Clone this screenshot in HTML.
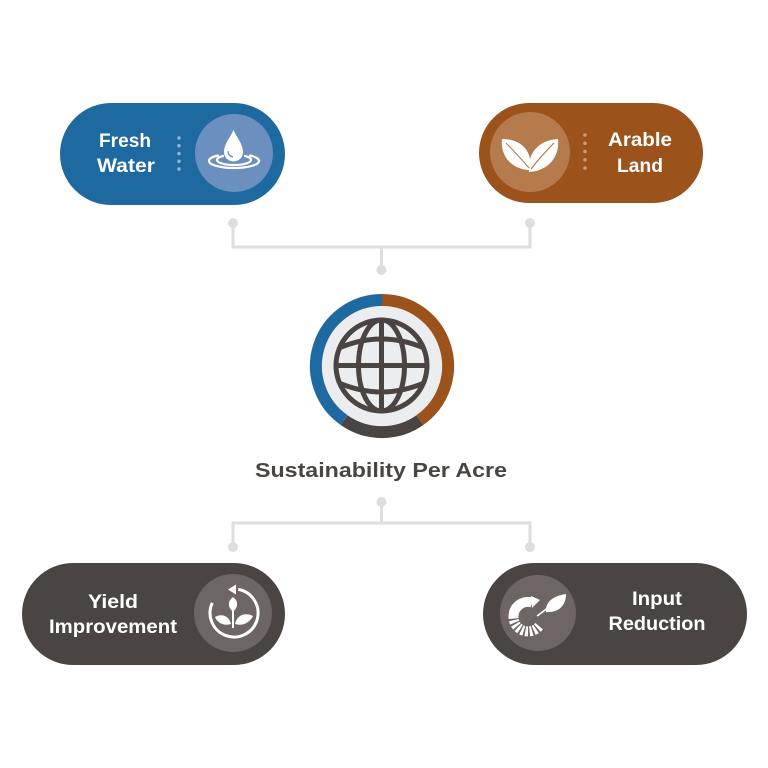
<!DOCTYPE html>
<html>
<head>
<meta charset="utf-8">
<style>
  html,body{margin:0;padding:0;background:#ffffff;}
  svg{display:block;}
  .lbl{font-family:"Liberation Sans",Arial,sans-serif;font-weight:bold;fill:#ffffff;font-size:19.5px;}
  .title{font-family:"Liberation Sans",Arial,sans-serif;font-weight:bold;fill:#4a4443;font-size:20.5px;}
</style>
</head>
<body>
<svg width="768" height="768" viewBox="0 0 768 768" xmlns="http://www.w3.org/2000/svg">
  <rect x="0" y="0" width="768" height="768" fill="#ffffff"/>

  <!-- connectors -->
  <g stroke="#dedede" stroke-width="3" fill="none">
    <path d="M233,223 V247 H530 V223"/>
    <path d="M381.5,247 V270"/>
    <path d="M381.5,502 V523"/>
    <path d="M233,547 V523 H530 V547"/>
  </g>
  <g fill="#dedede">
    <circle cx="233" cy="223" r="5"/>
    <circle cx="530" cy="223" r="5"/>
    <circle cx="381.5" cy="270" r="5"/>
    <circle cx="381.5" cy="502" r="5"/>
    <circle cx="233" cy="547" r="5"/>
    <circle cx="530" cy="547" r="5"/>
  </g>

  <!-- Fresh Water pill -->
  <rect x="60" y="103" width="225" height="102" rx="51" fill="#1f69a1"/>
  <circle cx="234" cy="153" r="39" fill="#6b8fbf"/>
  <g fill="#8fb2d4">
    <circle cx="179" cy="138" r="1.8"/>
    <circle cx="179" cy="145.8" r="1.8"/>
    <circle cx="179" cy="153.5" r="1.8"/>
    <circle cx="179" cy="161.3" r="1.8"/>
    <circle cx="179" cy="169" r="1.8"/>
  </g>
  <text class="lbl" x="125" y="147" text-anchor="middle" textLength="52" lengthAdjust="spacingAndGlyphs">Fresh</text>
  <text class="lbl" x="126" y="172" text-anchor="middle" textLength="58" lengthAdjust="spacingAndGlyphs">Water</text>
  <!-- water icon -->
  <g fill="none" stroke="#ffffff" stroke-width="2.2" stroke-linecap="round">
    <path d="M209,161 A25,7 0 0 0 259,161"/>
    <path d="M209,161 A25,7 0 0 1 218,155.5"/>
    <path d="M259,161 A25,7 0 0 0 250,155.5"/>
    <path d="M217,160 A17,5 0 0 0 251,160"/>
    <path d="M217,160 A17,5 0 0 1 223,156"/>
    <path d="M251,160 A17,5 0 0 0 245,156"/>
  </g>
  <path d="M233.5,130 C237,138 243,144 243,152 A9.5,9.5 0 0 1 224,152 C224,144 230,138 233.5,130 Z" fill="#ffffff"/>
  <path d="M228,151 A6,6 0 0 0 233,157" fill="none" stroke="#6b8fbf" stroke-width="1.3"/>

  <!-- Arable Land pill -->
  <rect x="479" y="103" width="224" height="100" rx="50" fill="#9b521b"/>
  <circle cx="530" cy="152" r="40" fill="#b67b4c"/>
  <g fill="#c99d76">
    <circle cx="585" cy="135" r="1.8"/>
    <circle cx="585" cy="143.3" r="1.8"/>
    <circle cx="585" cy="151.5" r="1.8"/>
    <circle cx="585" cy="159.8" r="1.8"/>
    <circle cx="585" cy="168" r="1.8"/>
  </g>
  <text class="lbl" x="640" y="146" text-anchor="middle" textLength="64" lengthAdjust="spacingAndGlyphs">Arable</text>
  <text class="lbl" x="640" y="172" text-anchor="middle" textLength="46" lengthAdjust="spacingAndGlyphs">Land</text>
  <!-- leaves icon -->
  <path d="M530,170 C514,170 500,158 502,139 C520,139 533,150 530,170 Z" fill="#ffffff"/>
  <path d="M529,172 C527,153 539,140 558,139 C560,158 547,171 529,172 Z" fill="#ffffff"/>
  <path d="M506,143 C515,152 522,160 529,168" fill="none" stroke="#b67b4c" stroke-width="1"/>
  <path d="M554,143 C545,152 538,160 531,169" fill="none" stroke="#b67b4c" stroke-width="1.2"/>

  <!-- Globe -->
  <circle cx="382" cy="366" r="60" fill="#ecedef"/>
  <g fill="none" stroke-width="12">
    <path d="M382,300 A66,66 0 0 0 344.1,420.1" stroke="#1f69a1"/>
    <path d="M382,300 A66,66 0 0 1 419.9,420.1" stroke="#9b521b"/>
    <path d="M419.9,420.1 A66,66 0 0 1 344.1,420.1" stroke="#4a4443"/>
  </g>
  <g fill="none" stroke="#4a4443" stroke-width="5">
    <circle cx="381.5" cy="365.5" r="45.5"/>
    <ellipse cx="381.5" cy="365.5" rx="23" ry="45.5"/>
    <line x1="381.5" y1="320" x2="381.5" y2="411"/>
    <line x1="336" y1="365.5" x2="427" y2="365.5"/>
    <path d="M339,348 Q381.5,330 424,348"/>
    <path d="M339,383 Q381.5,401 424,383"/>
  </g>

  <text class="title" x="381" y="477" text-anchor="middle" textLength="252" lengthAdjust="spacingAndGlyphs">Sustainability Per Acre</text>

  <!-- Yield Improvement pill -->
  <rect x="22" y="563" width="263" height="102" rx="51" fill="#4a4443"/>
  <circle cx="233" cy="613" r="39" fill="#6e6664"/>
  <text class="lbl" x="113" y="608" text-anchor="middle" textLength="50" lengthAdjust="spacingAndGlyphs">Yield</text>
  <text class="lbl" x="113" y="633" text-anchor="middle" textLength="128" lengthAdjust="spacingAndGlyphs">Improvement</text>
  <!-- yield icon -->
  <path d="M212.3,602.9 A24,24 0 1 0 238.2,589.4" fill="none" stroke="#ffffff" stroke-width="3"/>
  <path d="M228,589.5 L236,584.5 L236,594.5 Z" fill="#ffffff"/>
  <path d="M233,612 C227,606 228,601 233,597 C238,601 239,606 233,612 Z" fill="#ffffff"/>
  <path d="M231,624 C225,626 218,624 215,617 C222,613 229,616 231,624 Z" fill="#ffffff"/>
  <path d="M235,624 C241,626 249,624 253,616 C245,612 237,615 235,624 Z" fill="#ffffff"/>
  <path d="M233,611 V628" stroke="#ffffff" stroke-width="2"/>

  <!-- Input Reduction pill -->
  <rect x="483" y="563" width="264" height="102" rx="51" fill="#4a4443"/>
  <circle cx="538" cy="613" r="38" fill="#6e6664"/>
  <text class="lbl" x="657" y="605" text-anchor="middle" textLength="50" lengthAdjust="spacingAndGlyphs">Input</text>
  <text class="lbl" x="657" y="630" text-anchor="middle" textLength="97" lengthAdjust="spacingAndGlyphs">Reduction</text>
  <!-- input icon -->
  <path d="M532,602.5 A14.5,14.5 0 0 0 513.5,616" fill="none" stroke="#ffffff" stroke-width="10"/>
  <path d="M513.5,616 A14.5,14.5 0 0 0 540,625" fill="none" stroke="#ffffff" stroke-width="10" stroke-dasharray="2.6 1.6"/>
  <path d="M531,596 L540,600 L532,608 Z" fill="#ffffff"/>
  <path d="M546,612 C545,602 553,596 566,594 C566,606 558,613 546,612 Z" fill="#ffffff"/>
  <path d="M537,616 C543,612 550,606 560,598" fill="none" stroke="#ffffff" stroke-width="1.6"/>
</svg>
</body>
</html>
